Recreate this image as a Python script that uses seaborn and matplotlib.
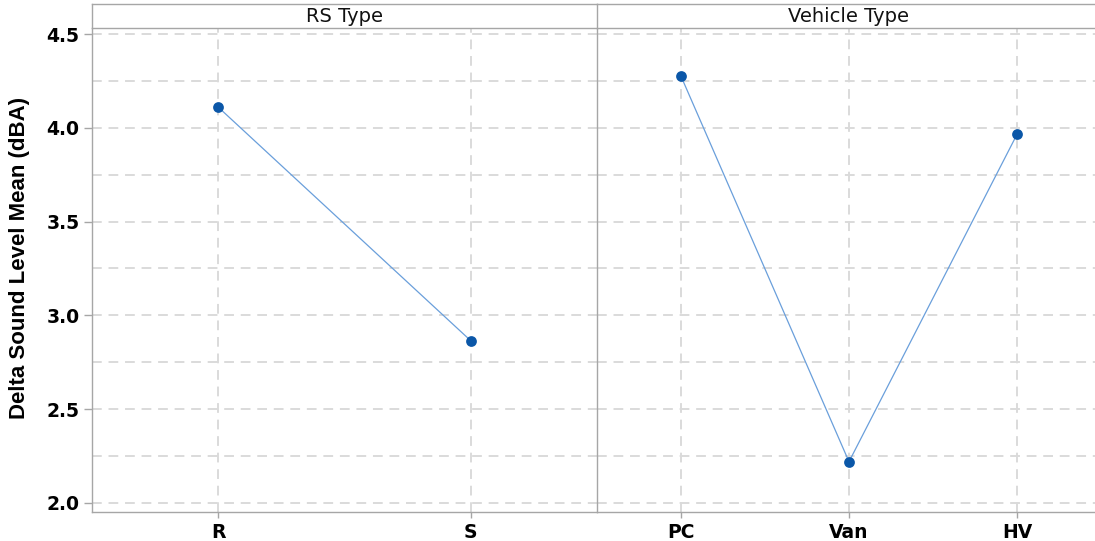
import matplotlib
matplotlib.use("Agg")
import matplotlib.pyplot as plt
import pandas as pd
import seaborn as sns
from matplotlib.ticker import MultipleLocator

# Main effects data
rs_levels = ["R", "S"]
rs_means = [4.11, 2.865]
vehicle_levels = ["PC", "Van", "HV"]
vehicle_means = [4.275, 2.22, 3.965]
panel_titles = ["RS Type", "Vehicle Type"]
y_label = "Delta Sound Level Mean (dBA)"

sns.set_style("white")
plt.rcParams["font.family"] = ["DejaVu Sans"]
plt.rcParams["text.color"] = "black"
plt.rcParams["xtick.labelcolor"] = "black"
plt.rcParams["ytick.labelcolor"] = "black"

line_color = "#6a9fdb"
marker_color = "#0b57a8"
grid_color = "#dadada"
spine_color = "#a6a6a6"

W, H = 1095, 541
fig = plt.figure(figsize=(W / 100, H / 100), dpi=100)


def px_rect(x0, y0, x1, y1):
    # pixel box -> figure fraction [left, bottom, width, height]
    return [x0 / W, 1 - y1 / H, (x1 - x0) / W, (y1 - y0) / H]


ax1 = fig.add_axes(px_rect(92, 28, 597, 512))
ax2 = fig.add_axes(px_rect(597, 28, 1101, 512))
strip1 = fig.add_axes(px_rect(92, 4, 597, 28))
strip2 = fig.add_axes(px_rect(597, 4, 1101, 28))

panels = [
    (ax1, pd.DataFrame({"level": rs_levels, "mean": rs_means})),
    (ax2, pd.DataFrame({"level": vehicle_levels, "mean": vehicle_means})),
]

for ax, d in panels:
    sns.lineplot(data=d, x="level", y="mean", sort=False, color=line_color,
                 linewidth=0.9, ax=ax, zorder=3)
    sns.scatterplot(data=d, x="level", y="mean", color=marker_color, s=60,
                    edgecolor=marker_color, linewidth=0, ax=ax, zorder=4)
    ax.set_xlim(-0.5, len(d) - 0.5)
    ax.set_ylim(1.952, 4.532)
    ax.yaxis.set_major_locator(MultipleLocator(0.5))
    ax.yaxis.set_minor_locator(MultipleLocator(0.25))
    ax.grid(axis="y", which="both", color=grid_color, linestyle=(0, (5, 3.5)), linewidth=1.4)
    ax.grid(axis="x", which="major", color=grid_color, linestyle=(0, (5, 3.5)), linewidth=1.4)
    ax.set_axisbelow(True)
    ax.set_xlabel("")
    ax.set_ylabel("")
    for s in ax.spines.values():
        s.set_color(spine_color)
        s.set_linewidth(1.0)
    ax.spines["top"].set_visible(False)
    ax.tick_params(axis="x", which="major", length=4, width=1, color=spine_color,
                   labelsize=13.5, pad=4, direction="out", bottom=True)
    ax.tick_params(axis="y", which="major", length=6, width=1, color=spine_color,
                   labelsize=13.5, pad=3, direction="out", left=True)
    ax.tick_params(axis="y", which="minor", length=0)
    for lbl in ax.get_xticklabels() + ax.get_yticklabels():
        lbl.set_fontweight("bold")

ax1.spines["right"].set_visible(False)
ax2.tick_params(axis="y", which="major", left=False, labelleft=False)

for strip, title in zip([strip1, strip2], panel_titles):
    strip.set_xticks([])
    strip.set_yticks([])
    strip.set_facecolor("white")
    for s in strip.spines.values():
        s.set_color(spine_color)
        s.set_linewidth(1.0)
    strip.spines["right"].set_visible(False)
    strip.text(0.5, 0.5, title, ha="center", va="center", fontsize=14,
               color="#111111", transform=strip.transAxes)

fig.text(20 / W, 1 - 258 / H, y_label, rotation=90, ha="center", va="center",
         fontsize=16, fontweight="bold", color="black",
         family=["Liberation Sans Narrow", "Liberation Sans", "DejaVu Sans"])

fig.savefig("out.png", dpi=100)
